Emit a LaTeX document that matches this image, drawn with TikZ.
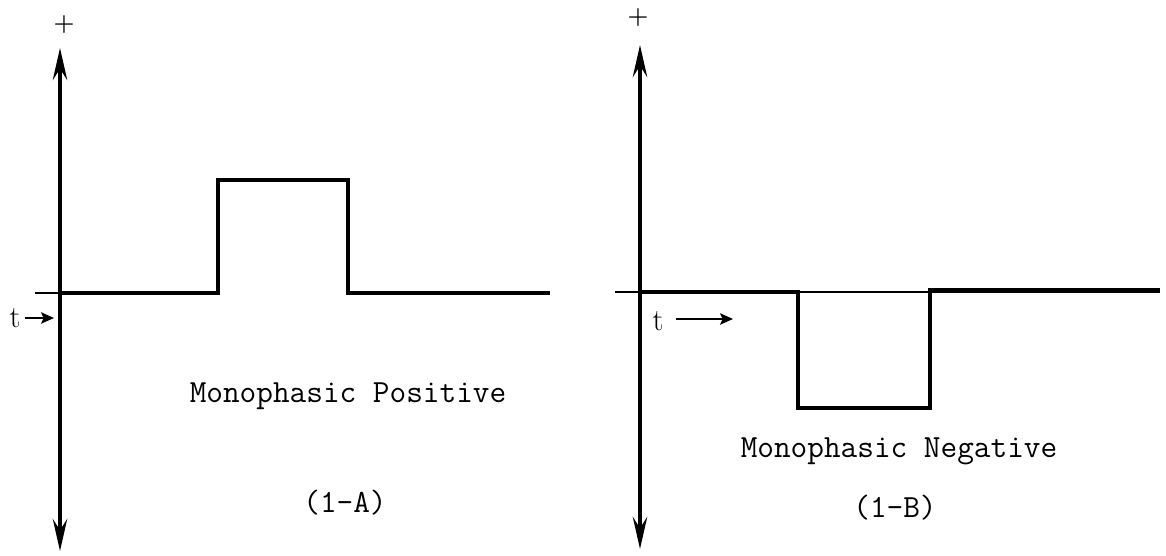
\documentclass[tikz,border=0pt]{standalone}
\usetikzlibrary{arrows.meta}

\begin{document}
\begin{tikzpicture}[
		x=0.025cm, y=-0.025cm,
		axistip/.tip={Stealth[length=8mm, width=3.6mm, inset=2.8mm]},
		timeaxis/.style={line width=2.8pt, axistip-axistip},
		baseaxis/.style={line width=1.4pt},
		pulse/.style={line width=2.9pt, line join=miter},
		caption/.style={font=\ttfamily\fontsize{23}{28}\selectfont, inner sep=0pt, anchor=base},
		signlabel/.style={font=\bfseries\fontsize{17}{20}\selectfont, inner sep=0pt},
		tlabel/.style={font=\fontsize{22}{26}\selectfont, inner sep=0pt},
		tarrow/.style={line width=1.7pt, -{Stealth[length=3.2mm, width=2.8mm, inset=0.6mm]}}
		]
		\useasboundingbox (0,0) rectangle (1166,556);
		
		% ==========================================
		% PANEL A: Monophasic Positive
		% ==========================================
		
		% Axes
		\coordinate (topA) at (60,48);
		\coordinate (botA) at (60,551);
		\coordinate (leftA) at (35,293);
		\coordinate (originA) at (60,293);
		\coordinate (endA) at (550,293);
		\draw[baseaxis] (leftA) -- (originA);
		\draw[timeaxis] (botA) -- (topA);
		\node[signlabel] (plusA) at (64,25) {+};
		
		% Pulse
		\draw[pulse] (originA) -- (218,293) -- (218,180) -- (348,180) -- (348,293) -- (endA);
		
		% Time arrow
		\node[tlabel] (tA) at (15,318) {t};
		\coordinate (tailA) at (25,318);
		\coordinate (tipA) at (54,318);
		\draw[tarrow] (tailA) -- (tipA);
		
		% Caption
		\node[caption] (nameA) at (348,403) {Monophasic Positive};
		\node[caption] (tagA) at (345,513) {(1-A)};
		
		
		% ==========================================
		% PANEL B: Monophasic Negative
		% ==========================================
		
		% Axes
		\coordinate (topB) at (640,45);
		\coordinate (botB) at (640,549);
		\coordinate (leftB) at (615,292);
		\coordinate (originB) at (640,292);
		\coordinate (endB) at (1160,292);
		\draw[baseaxis] (leftB) -- (endB);
		\draw[timeaxis] (botB) -- (topB);
		\node[signlabel] (plusB) at (638,18) {+};
		
		% Pulse
		\draw[pulse] (originB) -- (798,292) -- (798,408) -- (930,408) -- (930,290) -- (1160,290);
		
		% Time arrow
		\node[tlabel] (tB) at (658,321) {t};
		\coordinate (tailB) at (676,319);
		\coordinate (tipB) at (733,319);
		\draw[tarrow] (tailB) -- (tipB);
		
		% Caption
		\node[caption] (nameB) at (899,458) {Monophasic Negative};
		\node[caption] (tagB) at (895,518) {(1-B)};
		
	\end{tikzpicture}
\end{document}
